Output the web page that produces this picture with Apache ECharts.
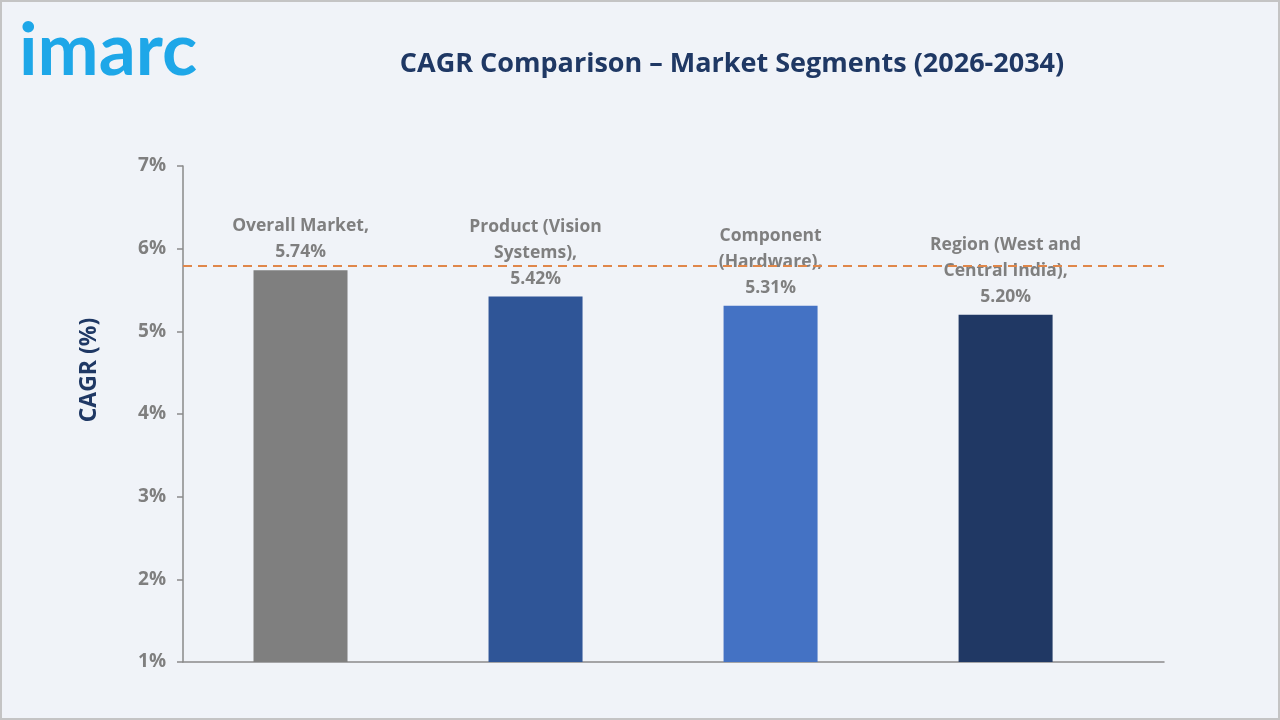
<!DOCTYPE html>
<html>
<head>
<meta charset="utf-8">
<script src="https://cdn.jsdelivr.net/npm/echarts@6/dist/echarts.min.js"></script>
<style>
html,body{margin:0;padding:0;background:#f0f3f8;}
#chart{width:1280px;height:720px;}
</style>
</head>
<body>
<div id="chart"></div>
<script>
const categories = ["Overall Market,", "Product (Vision\nSystems),", "Component\n(Hardware),", "Region (West and\nCentral India),"];
const values = [5.74, 5.42, 5.31, 5.20];
const barColors = ["#7f7f7f", "#2f5597", "#4472c4", "#203864"];
const referenceLine = 5.79;
const yTicks = [1, 7, 1]; // min, max, interval

const chart = echarts.init(document.getElementById('chart'));
const barData = values.map((v, i) => ({
  value: [i + 0.5, v],
  itemStyle: { color: barColors[i] }
}));

chart.setOption({
  backgroundColor: '#f0f3f8',
  animation: false,
  title: {
    text: 'CAGR Comparison – Market Segments (2026-2034)',
    left: 727, top: 46, textAlign: 'center',
    textStyle: { fontFamily: 'Open Sans', fontWeight: 'bold', fontSize: 27, color: '#1f3864' }
  },
  graphic: [
    { type: 'rect', shape: { x: 1, y: 1, width: 1278, height: 718 }, style: { fill: 'none', stroke: '#c4c4c4', lineWidth: 2 }, silent: true },
    { type: 'text', left: 19, top: 15, style: { text: 'imarc', fontFamily: 'Lato', fontWeight: 'bold', fontSize: 73, fill: '#1ea7e8' } }
  ],
  grid: { left: 183, right: 116, top: 166, bottom: 58 },
  xAxis: {
    type: 'value', min: 0, max: 4.174,
    axisLine: { show: true, lineStyle: { color: '#8a8a8a', width: 1.5 } },
    axisTick: { show: false }, axisLabel: { show: false }, splitLine: { show: false }
  },
  yAxis: {
    type: 'value', min: yTicks[0], max: yTicks[1], interval: yTicks[2],
    name: 'CAGR (%)', nameLocation: 'middle', nameGap: 82, nameRotate: 90,
    nameTextStyle: { fontFamily: 'Open Sans', fontWeight: 'bold', fontSize: 23, color: '#1f3864', padding: [0, 0, 0, 88] },
    axisLine: { show: true, lineStyle: { color: '#8a8a8a', width: 1.5 } },
    axisTick: { show: true, length: 6, lineStyle: { color: '#8a8a8a', width: 1.5 } },
    axisLabel: { formatter: '{value}%', fontFamily: 'Open Sans', fontWeight: 'bold', fontSize: 19, color: '#7f7f7f', margin: 17 },
    splitLine: { show: false }
  },
  series: [{
    type: 'bar',
    data: barData,
    barWidth: 94,
    label: {
      show: true, position: 'top', distance: 5,
      formatter: p => categories[p.dataIndex] + '\n' + values[p.dataIndex].toFixed(2) + '%',
      fontFamily: 'Open Sans', fontWeight: 'bold', fontSize: 17.5, lineHeight: 26, color: '#7f7f7f', align: 'center'
    },
    markLine: {
      silent: true, symbol: 'none',
      label: { show: false },
      lineStyle: { color: '#e0874a', type: [9, 6], width: 2 },
      data: [{ yAxis: referenceLine }]
    },
    z: 2
  }]
});
</script>
</body>
</html>
